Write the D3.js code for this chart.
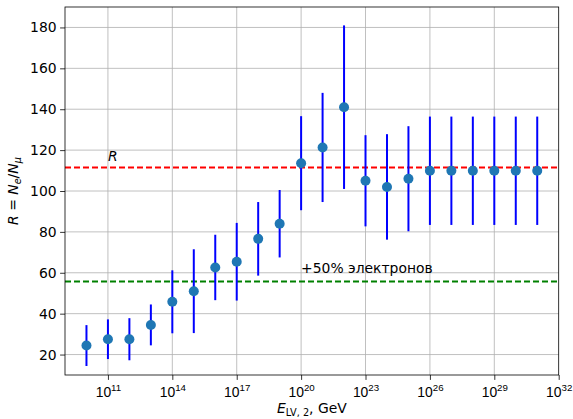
<!DOCTYPE html>
<html>
<head>
<meta charset="UTF-8">
<script src="https://cdn.jsdelivr.net/npm/d3@7"></script>
<style>
  body { margin: 0; background: #fff; }
  svg { font-family: "DejaVu Sans", sans-serif; }
</style>
</head>
<body>
<svg id="chart" width="573" height="419"></svg>
<script>
  // decade exponents of E_LV,2 (GeV)
  const exponents = [10, 11, 12, 13, 14, 15, 16, 17, 18, 19, 20, 21, 22, 23, 24, 25, 26, 27, 28, 29, 30, 31];
  // R = Ne/Nmu and its symmetric error
  const ratios = [24.4, 27.5, 27.5, 34.5, 45.8, 51.0, 62.6, 65.4, 76.6, 84.0, 113.6, 121.3, 141.0, 105.0, 102.0, 106.0, 109.9, 109.9, 109.9, 109.9, 109.9, 109.9];
  const errors = [10, 9.7, 10.3, 10, 15.4, 20.5, 16, 19, 18, 16.5, 23, 26.7, 40, 22.3, 25.8, 25.7, 26.5, 26.5, 26.5, 26.5, 26.5, 26.5];
  const xTickExps = [11, 14, 17, 20, 23, 26, 29, 32];
  const yTicks = [20, 40, 60, 80, 100, 120, 140, 160, 180];
  const rLevel = 111.5;
  const halfLevel = rLevel / 2;

  const mLeft = 65, mRight = 558.7, mTop = 7, mBottom = 375;
  const fs = 13.9;

  const svg = d3.select("#chart");

  const x = d3.scaleLog().domain([1e9, 1e32]).range([mLeft, mRight]);
  const y = d3.scaleLinear().domain([10, 190]).range([mBottom, mTop]);

  // grid
  svg.append("g").selectAll("line")
    .data(xTickExps.slice(0, -1))
    .enter().append("line")
    .attr("x1", d => x(Math.pow(10, d))).attr("x2", d => x(Math.pow(10, d)))
    .attr("y1", mTop).attr("y2", mBottom)
    .attr("stroke", "#b0b0b0").attr("stroke-width", 0.8);
  svg.append("g").selectAll("line")
    .data(yTicks)
    .enter().append("line")
    .attr("x1", mLeft).attr("x2", mRight)
    .attr("y1", d => y(d)).attr("y2", d => y(d))
    .attr("stroke", "#b0b0b0").attr("stroke-width", 0.8);

  // reference lines
  svg.append("line")
    .attr("x1", mLeft).attr("x2", mRight)
    .attr("y1", y(rLevel)).attr("y2", y(rLevel))
    .attr("stroke", "#ff0000").attr("stroke-width", 2)
    .attr("stroke-dasharray", "6,3");
  svg.append("line")
    .attr("x1", mLeft).attr("x2", mRight)
    .attr("y1", y(halfLevel)).attr("y2", y(halfLevel))
    .attr("stroke", "#008000").attr("stroke-width", 2)
    .attr("stroke-dasharray", "6,3");

  svg.append("text")
    .attr("x", x(1e11)).attr("y", y(rLevel + 3))
    .attr("font-size", fs).attr("font-style", "italic")
    .text("R");
  svg.append("text")
    .attr("x", x(1e20)).attr("y", y(halfLevel + 4))
    .attr("font-size", fs)
    .text("+50% электронов");

  // error bars
  svg.append("g").selectAll("line")
    .data(exponents)
    .enter().append("line")
    .attr("x1", d => x(Math.pow(10, d))).attr("x2", d => x(Math.pow(10, d)))
    .attr("y1", (d, i) => y(ratios[i] - errors[i]))
    .attr("y2", (d, i) => y(ratios[i] + errors[i]))
    .attr("stroke", "#0000ff").attr("stroke-width", 2);

  // markers
  svg.append("g").selectAll("circle")
    .data(exponents)
    .enter().append("circle")
    .attr("cx", d => x(Math.pow(10, d)))
    .attr("cy", (d, i) => y(ratios[i]))
    .attr("r", 5)
    .attr("fill", "#1f77b4");

  // axes
  const xAxis = d3.axisBottom(x)
    .tickValues(xTickExps.map(e => Math.pow(10, e)))
    .tickSize(4.9).tickPadding(3.5)
    .tickFormat(() => "");
  const gx = svg.append("g")
    .attr("transform", "translate(0," + mBottom + ")")
    .call(xAxis);
  gx.select(".domain").remove();
  gx.selectAll(".tick line").attr("stroke", "#000").attr("stroke-width", 0.8);
  gx.selectAll(".tick text").remove();
  gx.selectAll(".tick").each(function (d, i) {
    const t = d3.select(this).append("text")
      .attr("y", 21.5)
      .attr("fill", "#000")
      .attr("font-size", fs)
      .attr("text-anchor", "middle");
    t.append("tspan").text("10");
    t.append("tspan").attr("dy", -6).attr("font-size", fs * 0.7).text(xTickExps[i]);
  });

  const yAxis = d3.axisLeft(y)
    .tickValues(yTicks)
    .tickSize(4.9).tickPadding(3.5);
  const gy = svg.append("g")
    .attr("transform", "translate(" + mLeft + ",0)")
    .call(yAxis);
  gy.select(".domain").remove();
  gy.selectAll(".tick line").attr("stroke", "#000").attr("stroke-width", 0.8);
  gy.selectAll(".tick text")
    .attr("font-size", fs).attr("fill", "#000")
    .attr("font-family", "DejaVu Sans, sans-serif");

  // frame
  svg.append("rect")
    .attr("x", mLeft).attr("y", mTop)
    .attr("width", mRight - mLeft).attr("height", mBottom - mTop)
    .attr("fill", "none").attr("stroke", "#000").attr("stroke-width", 0.8);

  // x label
  const xl = svg.append("text")
    .attr("x", (mLeft + mRight) / 2).attr("y", 413)
    .attr("text-anchor", "middle").attr("font-size", fs);
  xl.append("tspan").attr("font-style", "italic").text("E");
  xl.append("tspan").attr("dy", 3).attr("font-size", fs * 0.7).text("LV, 2");
  xl.append("tspan").attr("dy", -3).text(", GeV");

  // y label
  const yl = svg.append("text")
    .attr("transform", "translate(18," + ((mTop + mBottom) / 2) + ") rotate(-90)")
    .attr("text-anchor", "middle").attr("font-size", fs);
  yl.append("tspan").attr("font-style", "italic").text("R");
  yl.append("tspan").text(" = ");
  yl.append("tspan").attr("font-style", "italic").text("N");
  yl.append("tspan").attr("dy", 3).attr("font-size", fs * 0.7).attr("font-style", "italic").text("e");
  yl.append("tspan").attr("dy", -3).text("/");
  yl.append("tspan").attr("font-style", "italic").text("N");
  yl.append("tspan").attr("dy", 3).attr("font-size", fs * 0.7).attr("font-style", "italic").text("μ");
</script>
</body>
</html>
